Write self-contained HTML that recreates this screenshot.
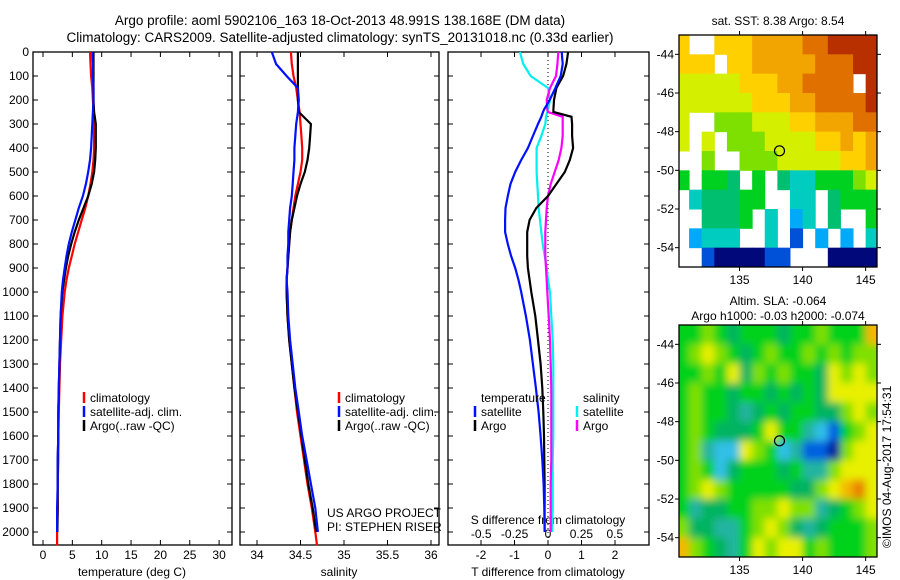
<!DOCTYPE html>
<html><head><meta charset="utf-8">
<style>
html,body{margin:0;padding:0;background:#fff;}
svg{display:block;font-family:"Liberation Sans",sans-serif;}
</style></head>
<body>
<svg id="fig" width="900" height="580" viewBox="0 0 900 580" xmlns="http://www.w3.org/2000/svg">
<defs><filter id="smooth" x="-5%" y="-5%" width="110%" height="110%"><feGaussianBlur stdDeviation="4" edgeMode="duplicate"/></filter></defs>
<text x="340" y="25" font-size="13.5" text-anchor="middle">Argo profile: aoml 5902106_163 18-Oct-2013 48.991S 138.168E (DM data)</text>
<text x="340" y="42" font-size="13.5" text-anchor="middle">Climatology: CARS2009. Satellite-adjusted climatology: synTS_20131018.nc (0.33d earlier)</text>
<g id="p1"></g>
<g id="p2"></g>
<g id="p3"></g>
<g id="m1"></g>
<g id="m2"></g>
<text x="327" y="517" font-size="12">US ARGO PROJECT</text>
<text x="327" y="531" font-size="12">PI: STEPHEN RISER</text>
<text x="0" y="0" font-size="12" transform="translate(891,548) rotate(-90)">©IMOS 04-Aug-2017 17:54:31</text>
</svg>
<script>
// ---- profile data ----
const depths = [0,50,100,150,200,250,300,350,400,450,500,550,600,650,700,750,800,850,900,950,1000,1100,1200,1300,1400,1500,1600,1700,1800,1900,2000,2055];
const climT = [8.0,8.1,8.2,8.4,8.5,8.6,8.7,8.7,8.7,8.6,8.4,8.1,7.7,7.2,6.6,6.0,5.4,4.9,4.4,4.0,3.7,3.3,3.1,2.9,2.8,2.7,2.6,2.6,2.5,2.5,2.4,2.4];
const satT = [8.4,8.5,8.5,8.6,8.6,8.5,8.4,8.3,8.2,8.0,7.7,7.3,6.8,6.1,5.5,4.9,4.4,4.0,3.7,3.4,3.2,3.0,2.9,2.8,2.7,2.6,2.6,2.5,2.5,2.4,2.4];
const argoT = [8.6,8.6,8.6,8.6,8.6,8.7,9.0,9.0,9.0,8.9,8.7,8.3,7.7,6.9,6.1,5.4,4.8,4.3,3.9,3.6,3.3,3.0,2.9,2.8,2.7,2.6,2.6,2.5,2.5,2.5,2.45];
const climS = [34.39,34.40,34.42,34.45,34.47,34.49,34.50,34.51,34.52,34.52,34.50,34.47,34.44,34.42,34.40,34.38,34.37,34.36,34.35,34.34,34.34,34.35,34.37,34.40,34.43,34.46,34.50,34.54,34.58,34.63,34.67,34.69];
const satS = [34.17,34.22,34.34,34.47,34.48,34.47,34.45,34.44,34.43,34.43,34.42,34.41,34.40,34.38,34.37,34.36,34.36,34.35,34.35,34.34,34.35,34.36,34.38,34.41,34.44,34.48,34.52,34.57,34.62,34.67,34.70];
const argoS = [34.47,34.47,34.47,34.47,34.47,34.48,34.62,34.61,34.60,34.58,34.55,34.50,34.46,34.43,34.40,34.38,34.37,34.36,34.35,34.34,34.34,34.35,34.37,34.40,34.43,34.47,34.51,34.55,34.59,34.64,34.68];
const depthsD = [0,50,100,150,200,240,250,270,300,350,400,450,500,550,600,650,700,750,800,850,900,950,1000,1100,1200,1300,1400,1500,1600,1700,1800,1900,2000];
const argoDT = [0.6,0.55,0.45,0.25,0.18,0.16,0.16,0.7,0.72,0.72,0.75,0.65,0.5,0.25,0.0,-0.35,-0.55,-0.62,-0.62,-0.62,-0.6,-0.55,-0.5,-0.38,-0.3,-0.22,-0.17,-0.14,-0.12,-0.11,-0.1,-0.1,-0.1];
const satDT = [0.41,0.44,0.38,0.22,0.05,-0.12,-0.15,-0.2,-0.3,-0.45,-0.6,-0.8,-0.98,-1.12,-1.2,-1.27,-1.28,-1.28,-1.2,-1.1,-0.98,-0.88,-0.8,-0.66,-0.54,-0.45,-0.36,-0.28,-0.22,-0.17,-0.13,-0.11,-0.1];
const satDS = [-0.21,-0.185,-0.13,0.0,0.015,0.0,-0.005,-0.015,-0.02,-0.05,-0.085,-0.085,-0.085,-0.08,-0.075,-0.07,-0.06,-0.05,-0.04,-0.025,-0.01,0.0,0.015,0.025,0.035,0.04,0.04,0.04,0.04,0.035,0.035,0.035,0.03];
const argoDS = [0.077,0.07,0.06,0.015,-0.01,-0.005,0.0,0.11,0.11,0.11,0.1,0.08,0.05,0.02,0.0,-0.01,-0.015,-0.02,-0.02,-0.02,-0.015,-0.01,-0.005,0.005,0.015,0.02,0.025,0.025,0.025,0.025,0.02,0.02,0.02];
const depthTicks = [0,100,200,300,400,500,600,700,800,900,1000,1100,1200,1300,1400,1500,1600,1700,1800,1900,2000];
const tTicks = [0,5,10,15,20,25,30];
const sTicks = [34,34.5,35,35.5,36];
const dTTicks = [-2,-1,0,1,2];
const dSTicks = [-0.5,-0.25,0,0.25,0.5];
const dSLabels = ["-0.5","-0.25","0","0.25","0.5"];
// ---- map data (1-degree cells, rows -43 -> -55, cols 130 -> 145) ----
const sstRows = [
"8..8889999aabbbb",
"888.8899999aaabb",
"7777788899aaaa.b",
"77777788899aaaab",
"7..66677788999aa",
"7.7.666777788989",
"..6..66677777889",
"5.554.5.43355567",
".344455..33.4555",
"..4445.3.23.4..5",
".2333..3.1.2.2.3",
"..1000011...0000",
".0000001...0..00"];
const slaRows = [
"5565455545565558",
"5676545655656566",
"5565746565547676",
"5655455454547777",
"5655434545544676",
"5654445755321567",
"5632276523110677",
"5652455545336777",
"5676555554467897",
"5344556676634567",
"6443356764345556",
"8654357677565556"];
const sstColors = {"0":"#00087a","1":"#0050d8","2":"#00aaf8","3":"#00ccc0","4":"#00c070","5":"#00d020","6":"#7ee000","7":"#d4f000","8":"#ffd000","9":"#f2a400","a":"#e07000","b":"#b83000"};
const slaColors = {"0":"#001c9c","1":"#0060e0","2":"#30c0e8","3":"#20b4a0","4":"#00b460","5":"#00d21e","6":"#80e000","7":"#e8f000","8":"#f4b800","9":"#e88000"};
const mapLatTicks = [-44,-46,-48,-50,-52,-54];
const mapLonTicks = [135,140,145];
const argoPos = [138.168,-48.991];

const NS="http://www.w3.org/2000/svg";
function el(parent,tag,attrs){const e=document.createElementNS(NS,tag);for(const k in attrs)e.setAttribute(k,attrs[k]);parent.appendChild(e);return e;}
const yD = d => 52 + d*0.24;
const TOP=52, BOT=545;

function frame(g,x0,x1){
  const r=el(g,'rect',{x:x0,y:TOP,width:x1-x0,height:BOT-TOP,fill:'none',stroke:'#000','stroke-width':1.3});
  
  
  depthTicks.forEach(d=>{
    const y=yD(d);
    el(g,'line',{x1:x0,x2:x0+5,y1:y,y2:y,stroke:'#000'});
    el(g,'line',{x1:x1,x2:x1-5,y1:y,y2:y,stroke:'#000'});
  });
}
function xticks(g,vals,fx,labels,ly){
  vals.forEach((v,i)=>{
    const x=fx(v);
    el(g,'line',{x1:x,x2:x,y1:TOP,y2:TOP+5,stroke:'#000'});
    el(g,'line',{x1:x,x2:x,y1:BOT,y2:BOT-5,stroke:'#000'});
    const t=el(g,'text',{x:x,y:ly,'font-size':12,'text-anchor':'middle'});
    t.textContent=labels?labels[i]:String(v);
    
    
  });
}
function line(g,xs,ds,fx,color,w,name){
  let p='';
  for(let i=0;i<xs.length;i++){p+=(i?'L':'M')+fx(xs[i]).toFixed(1)+','+yD(ds[i]).toFixed(1);}
  const e=el(g,'path',{d:p,fill:'none',stroke:color,'stroke-width':w,'stroke-linejoin':'miter'});
  
  
}
function legend(g,x,y,color,label){
  el(g,'line',{x1:x,x2:x,y1:y-10,y2:y+1,stroke:color,'stroke-width':2.5});
  const t=el(g,'text',{x:x+6,y:y,'font-size':12});
  t.textContent=label;
  
  
}

// Panel 1
const p1=document.getElementById('p1');
const fT=v=>43+v*5.87;
frame(p1,33,232);
depthTicks.forEach(d=>{const t=el(p1,'text',{x:29,y:yD(d)+4,'font-size':12,'text-anchor':'end'});t.textContent=d;

});
xticks(p1,tTicks,fT,null,559);
const xt1=el(p1,'text',{x:132,y:576,'font-size':12,'text-anchor':'middle'});xt1.textContent='temperature (deg C)';


line(p1,climT,depths,fT,'#f00',2.2,'climatology-temperature');
line(p1,argoT,depths,fT,'#000',2.2,'argo-temperature');
line(p1,satT,depths,fT,'#0010ff',2.2,'satellite-temperature');
legend(p1,84,402,'#f00','climatology');
legend(p1,84,416,'#0010ff','satellite-adj. clim.');
legend(p1,84,430,'#000','Argo(..raw -QC)');

// Panel 2
const p2=document.getElementById('p2');
const fS=v=>257+(v-34)*87;
frame(p2,240,439);
xticks(p2,sTicks,fS,null,559);
const xt2=el(p2,'text',{x:339,y:576,'font-size':12,'text-anchor':'middle'});xt2.textContent='salinity';


line(p2,climS,depths,fS,'#f00',2.2,'climatology-salinity');
line(p2,argoS,depths,fS,'#000',2.2,'argo-salinity');
line(p2,satS,depths,fS,'#0010ff',2.2,'satellite-salinity');
legend(p2,339,402,'#f00','climatology');
legend(p2,339,416,'#0010ff','satellite-adj. clim.');
legend(p2,339,430,'#000','Argo(..raw -QC)');

// Panel 3
const p3=document.getElementById('p3');
const fDT=v=>548+v*33.5;
const fDS=v=>548+v*133.6;
frame(p3,448,649);
xticks(p3,dTTicks,fDT,null,559);
dSTicks.forEach((v,i)=>{const t=el(p3,'text',{x:fDS(v),y:538,'font-size':12,'text-anchor':'middle'});t.textContent=dSLabels[i];

});
const st=el(p3,'text',{x:548,y:524,'font-size':12,'text-anchor':'middle'});st.textContent='S difference from climatology';


const xt3=el(p3,'text',{x:548,y:576,'font-size':12,'text-anchor':'middle'});xt3.textContent='T difference from climatology';


el(p3,'line',{x1:fDT(0),x2:fDT(0),y1:TOP,y2:BOT,stroke:'#000','stroke-dasharray':'1,3'});
line(p3,satDS,depthsD,fDS,'#00f0f0',2.2,'satellite-s-diff');
line(p3,argoDS,depthsD,fDS,'#ff00ff',2.2,'argo-s-diff');
line(p3,argoDT,depthsD,fDT,'#000',2.2,'argo-t-diff');
line(p3,satDT,depthsD,fDT,'#0010ff',2.2,'satellite-t-diff');
const lt=el(p3,'text',{x:481,y:402,'font-size':12});lt.textContent='temperature';


const ls=el(p3,'text',{x:583,y:402,'font-size':12});ls.textContent='salinity';


legend(p3,475,416,'#0010ff','satellite');
legend(p3,475,430,'#000','Argo');
legend(p3,577,416,'#00f0f0','satellite');
legend(p3,577,430,'#ff00ff','Argo');

// Maps
function drawMap(g,rows,colors,y0,y1,title1,title2,smooth){
  const x0=679,x1=877, lon0=130.2, lon1=145.9, lat0=-43.0, lat1=-55.0;
  const fx=l=>x0+(l-lon0)*(x1-x0)/(lon1-lon0);
  const fy=l=>y0+(l-lat0)*(y1-y0)/(lat1-lat0);
  const cp='clip'+g.id;
  const defs=el(g,'defs',{});const c=el(defs,'clipPath',{id:cp});el(c,'rect',{x:x0,y:y0,width:x1-x0,height:y1-y0});
  const outer=el(g,'g',{'clip-path':'url(#'+cp+')'});
  const cg=smooth?el(outer,'g',{filter:'url(#smooth)'}):outer;
  rows.forEach((r,i)=>{
    for(let j=0;j<r.length;j++){
      const ch=r[j]; if(ch==='.') continue;
      const lon=130+j, lat=-43-i;
      let ya=fy(lat), yb=fy(lat-1);
      if(smooth){ if(i===0) ya-=10; if(i===rows.length-1) yb+=10; }
      let xa=fx(lon), xb=fx(lon+1);
      if(smooth){ if(j===0) xa-=10; if(j===r.length-1) xb+=10; }
      const rc=el(cg,'rect',{x:xa,y:ya,width:xb-xa+0.5,height:yb-ya+0.5,fill:colors[ch]});
      
      
    }
  });
  el(g,'rect',{x:x0,y:y0,width:x1-x0,height:y1-y0,fill:'none',stroke:'#000','stroke-width':1.3});
  mapLatTicks.forEach(l=>{const y=fy(l);
    el(g,'line',{x1:x0-4,x2:x0,y1:y,y2:y,stroke:'#000'});
    el(g,'line',{x1:x1,x2:x1+4,y1:y,y2:y,stroke:'#000'});
    const t=el(g,'text',{x:x0-5,y:y+4,'font-size':12,'text-anchor':'end'});t.textContent=l;
    
    });
  mapLonTicks.forEach(l=>{const x=fx(l);
    el(g,'line',{x1:x,x2:x,y1:y0-4,y2:y0,stroke:'#000'});
    el(g,'line',{x1:x,x2:x,y1:y1,y2:y1+4,stroke:'#000'});
    const t=el(g,'text',{x:x,y:y1+17,'font-size':12,'text-anchor':'middle'});t.textContent=l;
    
    });
  const pt=el(g,'circle',{cx:fx(argoPos[0]),cy:fy(argoPos[1]),r:5,fill:'none',stroke:'#000','stroke-width':1.2});
  
  
  if(title2){
    const t1=el(g,'text',{x:778,y:y0-20,'font-size':12,'text-anchor':'middle'});t1.textContent=title1;
    
    
    const t2=el(g,'text',{x:778,y:y0-5,'font-size':12,'text-anchor':'middle'});t2.textContent=title2;
    
    
  } else {
    const t1=el(g,'text',{x:778,y:y0-10,'font-size':12,'text-anchor':'middle'});t1.textContent=title1;
    
    
  }
}
drawMap(document.getElementById('m1'),sstRows,sstColors,35,267,'sat. SST: 8.38 Argo: 8.54',null,false);
drawMap(document.getElementById('m2'),slaRows,slaColors,325,557,'Altim. SLA: -0.064','Argo h1000: -0.03 h2000: -0.074',true);
</script>
</body></html>
